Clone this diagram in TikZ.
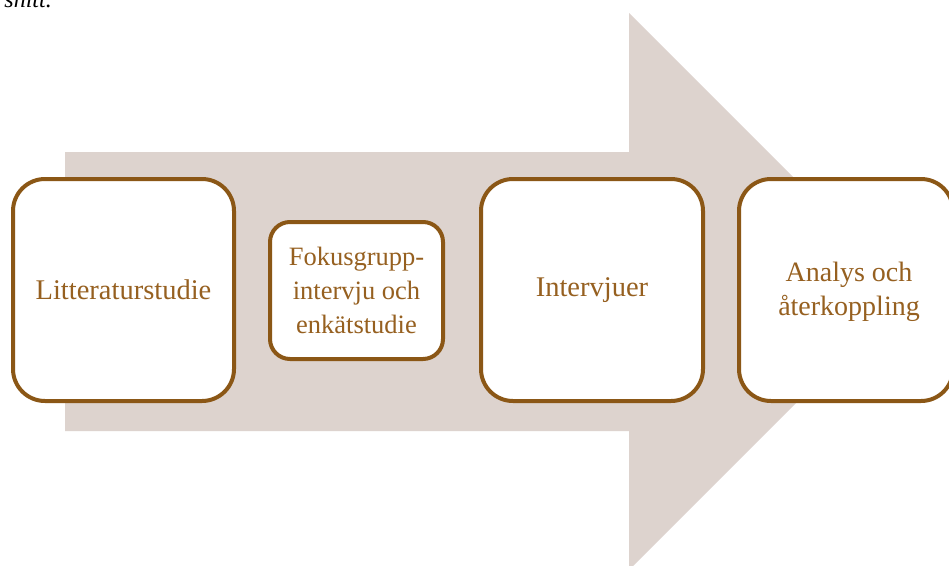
\documentclass[tikz,border=0pt]{standalone}
\usepackage{fontspec}
\setmainfont{Liberation Serif}
\definecolor{arrowfill}{RGB}{221,211,206}
\definecolor{boxline}{RGB}{139,87,22}
\definecolor{boxtext}{RGB}{150,96,32}
\begin{document}
\begin{tikzpicture}[x=1pt,y=-1pt,
  stepbox/.style={draw=boxline,line width=4pt,fill=white,rounded corners=32pt,
    text=boxtext,align=center,inner sep=0pt,
    font=\fontsize{28.5}{34}\selectfont},
  smallbox/.style={stepbox,rounded corners=20pt,font=\fontsize{26.5}{34}\selectfont}]
\useasboundingbox (0,0) rectangle (949,565);
\fill[white] (0,0) rectangle (949,565);
% big background arrow
\fill[arrowfill] (65,152) -- (629,152) -- (629,13) -- (907.5,291.5) -- (629,570)
  -- (629,431) -- (65,431) -- cycle;
% caption remnant at top
\node[anchor=base east,inner sep=0pt,font=\fontsize{24}{28}\itshape] (cap) at (52,7) {snitt.};
% step boxes
\node[stepbox,minimum width=221pt,minimum height=222pt] (b1) at (123.5,290) {Litteraturstudie};
\node[smallbox,minimum width=173pt,minimum height=137pt] (b2) at (356.5,290.5) {Fokusgrupp-\\intervju och\\enkätstudie};
\node[stepbox,minimum width=222pt,minimum height=222pt] (b3) at (592,290) {Intervjuer};
\node[stepbox,minimum width=214pt,minimum height=222pt,font=\fontsize{28}{34}\selectfont] (b4) at (846,290) {};
\node[text=boxtext,align=center,inner sep=0pt,font=\fontsize{28}{34}\selectfont] (t4) at (849,292) {Analys och\\återkoppling};
\end{tikzpicture}
\end{document}
